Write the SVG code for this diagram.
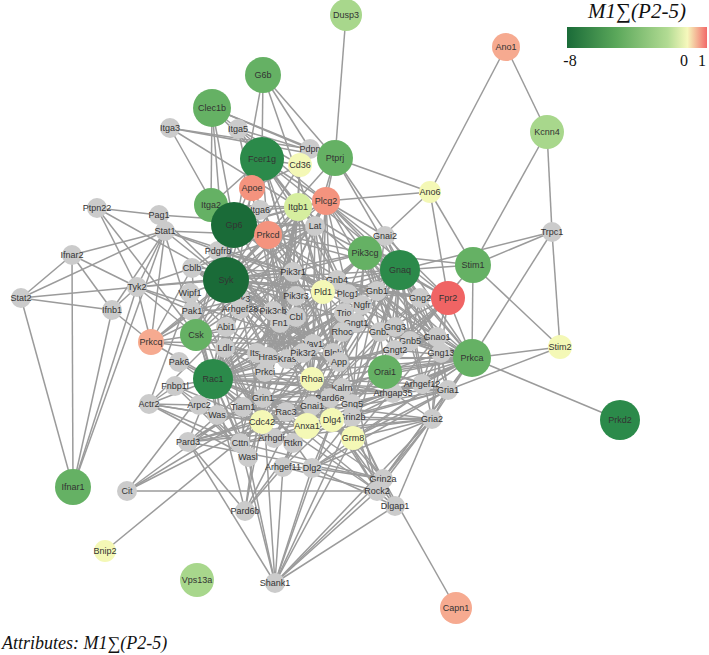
<svg xmlns="http://www.w3.org/2000/svg" width="709" height="655" viewBox="0 0 709 655">
<defs>
<linearGradient id="lg" x1="0" y1="0" x2="1" y2="0">
<stop offset="0" stop-color="#1a6b38"/><stop offset="0.35" stop-color="#5aa75a"/><stop offset="0.72" stop-color="#b2db93"/><stop offset="0.86" stop-color="#f6f8bc"/><stop offset="1" stop-color="#f26a6a"/>
</linearGradient>
</defs>
<style>
.gr{fill:#cbcbcb}.vdg{fill:#1a6b38}.dg{fill:#2b8a4a}.mg{fill:#65b164}.lg{fill:#a8d78c}.pg{fill:#d6ee9f}.yl{fill:#f4f8b6}.sa{fill:#f4937e}.ls{fill:#f6aa90}.rd{fill:#f06464}
.nodes text{font-family:"Liberation Sans",Arial,sans-serif;font-size:9px;fill:#333;text-anchor:middle}
.ser{font-family:"Liberation Serif","Times New Roman",serif;font-style:italic;fill:#111}
.tick{font-family:"Liberation Serif","Times New Roman",serif;font-size:16px;fill:#111}
</style>
<rect width="709" height="655" fill="#fff"/>
<g id="edges" fill="none" stroke="#9b9b9b" stroke-width="1.5">
<path d="M346 15L335 158"/><path d="M506 47L430 192"/><path d="M506 47L547 132"/><path d="M547 132L473 265"/><path d="M547 132L552 232"/><path d="M552 232L473 265"/><path d="M552 232L400 270"/><path d="M552 232L560 347"/><path d="M552 232L472 358"/><path d="M473 265L560 347"/><path d="M473 265L385 372"/><path d="M473 265L400 270"/><path d="M473 265L472 358"/><path d="M472 358L620 420"/><path d="M472 358L560 347"/><path d="M448 390L560 347"/><path d="M430 192L448 298"/><path d="M430 192L335 158"/><path d="M430 192L365 253"/><path d="M430 192L473 265"/><path d="M430 192L326 201"/>
<path d="M263 75L335 158"/><path d="M263 75L226 280"/><path d="M263 75L262 159"/><path d="M263 75L310 149"/><path d="M263 75L315 226"/>
<path d="M212 108L226 280"/><path d="M212 108L310 149"/><path d="M212 108L234 225"/><path d="M212 108L262 159"/><path d="M212 108L326 201"/><path d="M212 108L335 158"/><path d="M212 108L211 205"/>
<path d="M170 128L298 207"/><path d="M170 128L280 323"/><path d="M170 128L335 158"/><path d="M170 128L310 149"/><path d="M238 129L298 207"/><path d="M238 129L280 323"/><path d="M238 129L335 158"/><path d="M238 129L300 165"/>
<path d="M310 149L335 158"/><path d="M310 149L300 165"/><path d="M335 158L226 280"/><path d="M335 158L326 201"/><path d="M335 158L315 226"/><path d="M335 158L400 270"/><path d="M335 158L472 358"/>
<path d="M300 165L298 207"/><path d="M300 165L262 159"/><path d="M300 165L226 280"/><path d="M300 165L252 188"/><path d="M300 165L293 272"/><path d="M252 188L225 348"/><path d="M252 188L339 362"/>
<path d="M97 208L159 215"/><path d="M97 208L137 287"/><path d="M97 208L196 335"/><path d="M97 208L226 280"/>
<path d="M72 255L165 231"/><path d="M72 255L137 287"/><path d="M72 255L21 298"/><path d="M72 255L112 310"/><path d="M72 255L73 487"/>
<path d="M21 298L165 231"/><path d="M21 298L137 287"/><path d="M21 298L73 487"/><path d="M21 298L112 310"/>
<path d="M137 287L165 231"/><path d="M137 287L73 487"/><path d="M137 287L112 310"/><path d="M137 287L226 280"/><path d="M137 287L293 272"/><path d="M137 287L192 268"/><path d="M137 287L196 335"/><path d="M137 287L192 311"/><path d="M137 287L313 344"/>
<path d="M112 310L73 487"/><path d="M112 310L165 231"/><path d="M165 231L73 487"/><path d="M165 231L226 280"/><path d="M165 231L293 272"/><path d="M165 231L268 235"/><path d="M165 231L218 251"/><path d="M165 231L151 342"/>
<path d="M159 215L196 335"/><path d="M159 215L315 226"/><path d="M159 215L226 280"/>
<path d="M151 342L213 379"/><path d="M151 342L196 335"/><path d="M151 342L226 280"/><path d="M151 342L315 226"/><path d="M151 342L313 344"/><path d="M151 342L192 311"/><path d="M151 342L137 287"/><path d="M151 342L112 310"/><path d="M151 342L268 357"/><path d="M151 342L192 268"/><path d="M151 342L293 272"/>
<path d="M149 404L199 405"/><path d="M149 404L190 293"/><path d="M149 404L217 415"/><path d="M149 404L248 457"/><path d="M149 404L240 443"/><path d="M149 404L226 327"/><path d="M149 404L175 386"/><path d="M149 404L213 379"/><path d="M149 404L262 422"/>
<path d="M127 491L312 379"/><path d="M127 491L377 491"/><path d="M127 491L213 379"/><path d="M127 491L262 422"/>
<path d="M188 442L245 511"/><path d="M188 442L262 422"/><path d="M188 442L213 379"/><path d="M188 442L265 372"/><path d="M188 442L330 398"/><path d="M188 442L243 407"/>
<path d="M245 511L262 422"/><path d="M245 511L213 379"/><path d="M245 511L265 372"/><path d="M245 511L312 379"/><path d="M245 511L330 398"/>
<path d="M275 583L395 506"/><path d="M275 583L383 479"/><path d="M275 583L332 420"/><path d="M275 583L353 438"/><path d="M275 583L240 443"/><path d="M275 583L263 398"/><path d="M275 583L312 468"/><path d="M275 583L352 417"/><path d="M275 583L283 467"/><path d="M275 583L188 442"/><path d="M275 583L377 491"/><path d="M275 583L432 419"/><path d="M275 583L248 457"/>
<path d="M456 608L383 479"/><path d="M262 422L105 551"/>
<path d="M226 280L262 159"/><path d="M226 280L234 225"/><path d="M226 280L315 226"/><path d="M226 280L326 201"/><path d="M226 280L313 344"/><path d="M226 280L333 353"/><path d="M226 280L293 272"/><path d="M226 280L296 317"/><path d="M226 280L192 268"/><path d="M226 280L348 294"/><path d="M226 280L196 335"/><path d="M226 280L213 379"/><path d="M226 280L273 311"/><path d="M226 280L323 292"/><path d="M226 280L298 207"/><path d="M226 280L268 235"/><path d="M226 280L268 357"/><path d="M226 280L400 270"/><path d="M226 280L448 298"/><path d="M226 280L192 311"/><path d="M226 280L190 293"/><path d="M226 280L218 251"/><path d="M226 280L303 353"/><path d="M226 280L296 296"/><path d="M226 280L211 205"/><path d="M226 280L365 253"/><path d="M226 280L377 291"/><path d="M226 280L472 358"/><path d="M226 280L312 379"/>
<path d="M234 225L262 159"/><path d="M234 225L315 226"/><path d="M234 225L326 201"/><path d="M234 225L211 205"/><path d="M234 225L298 207"/><path d="M234 225L268 235"/><path d="M234 225L313 344"/><path d="M234 225L293 272"/><path d="M234 225L323 292"/><path d="M234 225L400 270"/><path d="M234 225L365 253"/><path d="M234 225L260 210"/>
<path d="M262 159L315 226"/><path d="M262 159L326 201"/><path d="M262 159L298 207"/><path d="M262 159L268 235"/><path d="M262 159L293 272"/><path d="M262 159L313 344"/><path d="M262 159L348 294"/><path d="M262 159L333 353"/><path d="M262 159L400 270"/><path d="M262 159L211 205"/><path d="M262 159L252 188"/>
<path d="M326 201L315 226"/><path d="M326 201L268 235"/><path d="M326 201L365 253"/><path d="M326 201L400 270"/><path d="M326 201L323 292"/><path d="M326 201L333 353"/><path d="M326 201L313 344"/><path d="M326 201L213 379"/><path d="M326 201L348 294"/><path d="M326 201L377 291"/><path d="M326 201L420 298"/><path d="M326 201L298 207"/><path d="M326 201L448 298"/><path d="M326 201L293 272"/><path d="M326 201L385 236"/>
<path d="M298 207L280 323"/><path d="M298 207L211 205"/><path d="M298 207L260 210"/><path d="M298 207L293 272"/><path d="M298 207L213 379"/><path d="M298 207L262 422"/><path d="M298 207L240 443"/><path d="M298 207L268 357"/><path d="M298 207L196 335"/><path d="M298 207L472 358"/><path d="M298 207L312 379"/><path d="M298 207L323 292"/><path d="M298 207L315 226"/><path d="M298 207L273 311"/><path d="M298 207L339 362"/><path d="M298 207L400 270"/>
<path d="M268 235L315 226"/><path d="M268 235L293 272"/><path d="M268 235L472 358"/><path d="M268 235L323 292"/><path d="M268 235L268 357"/><path d="M268 235L312 379"/><path d="M268 235L287 359"/><path d="M268 235L313 344"/><path d="M268 235L348 294"/><path d="M268 235L307 426"/><path d="M268 235L218 251"/>
<path d="M315 226L293 272"/><path d="M315 226L348 294"/><path d="M315 226L313 344"/><path d="M315 226L333 353"/><path d="M315 226L296 317"/><path d="M315 226L337 280"/><path d="M315 226L365 253"/><path d="M315 226L196 335"/><path d="M315 226L192 268"/>
<path d="M365 253L400 270"/><path d="M365 253L377 291"/><path d="M365 253L380 332"/><path d="M365 253L337 280"/><path d="M365 253L420 298"/><path d="M365 253L356 323"/><path d="M365 253L395 327"/><path d="M365 253L410 341"/><path d="M365 253L385 236"/><path d="M365 253L293 272"/><path d="M365 253L323 292"/><path d="M365 253L268 357"/><path d="M365 253L213 379"/><path d="M365 253L448 298"/><path d="M365 253L437 337"/><path d="M365 253L441 353"/><path d="M365 253L395 350"/><path d="M365 253L312 379"/><path d="M365 253L473 265"/><path d="M365 253L352 404"/>
<path d="M400 270L377 291"/><path d="M400 270L380 332"/><path d="M400 270L337 280"/><path d="M400 270L420 298"/><path d="M400 270L395 327"/><path d="M400 270L356 323"/><path d="M400 270L395 350"/><path d="M400 270L410 341"/><path d="M400 270L441 353"/><path d="M400 270L437 337"/><path d="M400 270L385 236"/><path d="M400 270L448 298"/><path d="M400 270L472 358"/><path d="M400 270L348 294"/><path d="M400 270L323 292"/><path d="M400 270L385 372"/><path d="M400 270L422 384"/><path d="M400 270L448 390"/><path d="M400 270L312 379"/><path d="M400 270L283 467"/><path d="M400 270L352 404"/><path d="M400 270L312 406"/><path d="M400 270L344 313"/><path d="M400 270L213 379"/><path d="M400 270L432 419"/><path d="M400 270L353 438"/>
<path d="M377 291L420 298"/><path d="M377 291L395 327"/><path d="M377 291L356 323"/><path d="M377 291L395 350"/><path d="M377 291L441 353"/><path d="M377 291L352 404"/><path d="M377 291L437 337"/><path d="M377 291L385 236"/><path d="M377 291L312 406"/><path d="M380 332L420 298"/><path d="M380 332L395 327"/><path d="M380 332L356 323"/><path d="M380 332L395 350"/><path d="M380 332L441 353"/><path d="M380 332L352 404"/><path d="M380 332L312 406"/><path d="M337 280L420 298"/><path d="M337 280L395 327"/><path d="M337 280L356 323"/><path d="M337 280L395 350"/><path d="M337 280L352 404"/><path d="M337 280L441 353"/><path d="M410 341L420 298"/><path d="M410 341L441 353"/><path d="M410 341L395 350"/><path d="M410 341L395 327"/><path d="M410 341L437 337"/><path d="M410 341L356 323"/><path d="M410 341L352 404"/><path d="M385 236L420 298"/><path d="M385 236L448 298"/><path d="M437 337L420 298"/><path d="M437 337L395 350"/><path d="M437 337L441 353"/><path d="M312 406L352 404"/><path d="M312 406L356 323"/><path d="M312 406L420 298"/>
<path d="M448 298L312 406"/><path d="M448 298L377 291"/><path d="M448 298L420 298"/><path d="M448 298L437 337"/><path d="M448 298L410 341"/><path d="M448 298L441 353"/><path d="M448 298L472 358"/><path d="M448 298L307 426"/><path d="M448 298L323 292"/><path d="M448 298L380 332"/><path d="M448 298L395 350"/>
<path d="M472 358L441 353"/><path d="M472 358L437 337"/><path d="M472 358L410 341"/><path d="M472 358L420 298"/><path d="M472 358L323 292"/><path d="M472 358L312 379"/><path d="M472 358L385 372"/><path d="M472 358L448 390"/><path d="M472 358L432 419"/><path d="M472 358L422 384"/><path d="M472 358L287 359"/><path d="M472 358L268 357"/><path d="M472 358L213 379"/><path d="M472 358L383 479"/><path d="M472 358L352 417"/><path d="M472 358L332 420"/><path d="M472 358L395 350"/><path d="M472 358L307 426"/><path d="M472 358L393 393"/><path d="M472 358L263 398"/><path d="M472 358L380 332"/><path d="M472 358L395 327"/><path d="M472 358L262 422"/><path d="M472 358L353 438"/><path d="M472 358L312 468"/><path d="M472 358L377 291"/>
<path d="M385 372L422 384"/><path d="M385 372L441 353"/><path d="M385 372L448 390"/>
<path d="M448 390L432 419"/><path d="M448 390L332 420"/><path d="M448 390L383 479"/><path d="M448 390L352 417"/><path d="M448 390L263 398"/><path d="M448 390L353 438"/><path d="M448 390L422 384"/><path d="M448 390L437 337"/><path d="M448 390L312 468"/><path d="M448 390L441 353"/><path d="M448 390L262 422"/><path d="M448 390L213 379"/>
<path d="M432 419L332 420"/><path d="M432 419L383 479"/><path d="M432 419L352 417"/><path d="M432 419L263 398"/><path d="M432 419L312 468"/><path d="M432 419L353 438"/><path d="M432 419L393 393"/><path d="M432 419L395 506"/><path d="M432 419L441 353"/><path d="M432 419L188 442"/><path d="M432 419L240 443"/><path d="M432 419L377 491"/><path d="M432 419L437 337"/>
<path d="M422 384L312 379"/><path d="M422 384L441 353"/><path d="M422 384L410 341"/><path d="M422 384L437 337"/><path d="M393 393L312 379"/><path d="M393 393L213 379"/><path d="M393 393L262 422"/><path d="M393 393L352 404"/><path d="M393 393L395 350"/>
<path d="M312 379L377 491"/><path d="M312 379L293 443"/><path d="M312 379L274 438"/><path d="M312 379L283 467"/><path d="M312 379L313 344"/><path d="M312 379L344 313"/><path d="M312 379L342 388"/><path d="M312 379L323 292"/><path d="M312 379L213 379"/><path d="M312 379L262 422"/><path d="M312 379L265 372"/><path d="M312 379L330 398"/><path d="M312 379L268 357"/><path d="M312 379L287 359"/><path d="M312 379L240 309"/><path d="M312 379L307 426"/><path d="M312 379L362 305"/><path d="M312 379L332 420"/><path d="M312 379L293 272"/><path d="M312 379L240 443"/><path d="M312 379L303 353"/><path d="M312 379L352 404"/>
<path d="M213 379L192 311"/><path d="M213 379L240 299"/><path d="M213 379L179 362"/><path d="M213 379L313 344"/><path d="M213 379L243 407"/><path d="M213 379L217 415"/><path d="M213 379L248 457"/><path d="M213 379L190 293"/><path d="M213 379L226 327"/><path d="M213 379L274 438"/><path d="M213 379L262 422"/><path d="M213 379L286 412"/><path d="M213 379L342 388"/><path d="M213 379L344 313"/><path d="M213 379L330 398"/><path d="M213 379L265 372"/><path d="M213 379L175 386"/><path d="M213 379L240 443"/><path d="M213 379L268 357"/><path d="M213 379L287 359"/><path d="M213 379L293 272"/><path d="M213 379L273 311"/><path d="M213 379L257 353"/><path d="M213 379L199 405"/><path d="M213 379L196 335"/><path d="M213 379L240 309"/><path d="M213 379L303 353"/><path d="M213 379L362 305"/><path d="M213 379L225 348"/><path d="M213 379L263 398"/><path d="M213 379L332 420"/><path d="M213 379L323 292"/><path d="M213 379L280 323"/><path d="M213 379L296 296"/>
<path d="M262 422L217 415"/><path d="M262 422L248 457"/><path d="M262 422L192 311"/><path d="M262 422L240 299"/><path d="M262 422L179 362"/><path d="M262 422L330 398"/><path d="M262 422L257 353"/><path d="M262 422L274 438"/><path d="M262 422L175 386"/><path d="M262 422L243 407"/><path d="M262 422L313 344"/><path d="M262 422L240 443"/><path d="M262 422L265 372"/><path d="M262 422L226 327"/><path d="M262 422L190 293"/><path d="M262 422L286 412"/><path d="M262 422L199 405"/><path d="M262 422L263 398"/><path d="M262 422L332 420"/><path d="M262 422L293 272"/><path d="M262 422L268 357"/><path d="M262 422L287 359"/><path d="M262 422L293 443"/><path d="M262 422L344 313"/><path d="M262 422L342 388"/><path d="M262 422L307 426"/><path d="M262 422L225 348"/>
<path d="M196 335L192 268"/><path d="M196 335L192 311"/><path d="M196 335L226 327"/><path d="M196 335L218 251"/><path d="M196 335L268 357"/><path d="M196 335L293 272"/><path d="M196 335L280 323"/><path d="M196 335L313 344"/><path d="M196 335L234 225"/>
<path d="M218 251L293 272"/><path d="M218 251L273 311"/><path d="M218 251L268 357"/><path d="M218 251L296 317"/><path d="M218 251L192 268"/><path d="M218 251L348 294"/><path d="M218 251L303 353"/><path d="M218 251L296 296"/><path d="M218 251L226 327"/><path d="M218 251L280 323"/><path d="M218 251L287 359"/>
<path d="M192 268L293 272"/><path d="M192 268L313 344"/><path d="M192 268L296 317"/><path d="M192 268L303 353"/>
<path d="M293 272L273 311"/><path d="M293 272L296 317"/><path d="M293 272L268 357"/><path d="M293 272L287 359"/><path d="M293 272L313 344"/><path d="M293 272L348 294"/><path d="M293 272L333 353"/><path d="M293 272L362 305"/><path d="M293 272L323 292"/><path d="M293 272L226 327"/><path d="M293 272L280 323"/><path d="M293 272L257 353"/><path d="M293 272L377 291"/>
<path d="M268 357L287 359"/><path d="M268 357L273 311"/><path d="M268 357L323 292"/><path d="M268 357L362 305"/><path d="M268 357L348 294"/><path d="M268 357L257 353"/><path d="M268 357L303 353"/><path d="M268 357L296 296"/><path d="M268 357L313 344"/><path d="M268 357L377 291"/><path d="M268 357L226 327"/><path d="M268 357L243 407"/><path d="M268 357L296 317"/><path d="M268 357L263 398"/>
<path d="M287 359L273 311"/><path d="M287 359L303 353"/><path d="M287 359L296 296"/><path d="M287 359L323 292"/><path d="M287 359L362 305"/><path d="M287 359L313 344"/>
<path d="M263 398L383 479"/><path d="M263 398L352 417"/><path d="M263 398L332 420"/><path d="M263 398L312 468"/><path d="M263 398L353 438"/><path d="M263 398L286 412"/><path d="M263 398L243 407"/><path d="M263 398L342 388"/><path d="M263 398L395 506"/><path d="M263 398L188 442"/><path d="M263 398L240 443"/>
<path d="M332 420L383 479"/><path d="M332 420L352 417"/><path d="M332 420L312 468"/><path d="M332 420L395 506"/><path d="M332 420L353 438"/><path d="M332 420L342 388"/><path d="M332 420L286 412"/><path d="M332 420L283 467"/><path d="M332 420L293 443"/><path d="M332 420L188 442"/><path d="M332 420L240 443"/><path d="M332 420L377 491"/>
<path d="M383 479L352 417"/><path d="M383 479L395 506"/><path d="M383 479L312 468"/><path d="M383 479L377 491"/><path d="M383 479L353 438"/><path d="M383 479L188 442"/><path d="M383 479L240 443"/><path d="M352 417L312 468"/><path d="M352 417L395 506"/><path d="M352 417L353 438"/><path d="M352 417L377 491"/><path d="M352 417L342 388"/><path d="M352 417L286 412"/>
<path d="M377 491L395 506"/><path d="M377 491L283 467"/><path d="M377 491L213 379"/><path d="M395 506L312 468"/><path d="M283 467L293 443"/><path d="M283 467L312 468"/><path d="M283 467L245 511"/><path d="M274 438L286 412"/><path d="M274 438L293 443"/><path d="M243 407L286 412"/><path d="M243 407L330 398"/><path d="M342 388L286 412"/><path d="M344 313L342 332"/>
<path d="M313 344L333 353"/><path d="M313 344L348 294"/><path d="M313 344L296 317"/><path d="M313 344L303 353"/><path d="M333 353L348 294"/><path d="M348 294L362 305"/><path d="M339 362L225 348"/><path d="M339 362L437 337"/><path d="M339 362L263 398"/>
<path d="M226 327L217 415"/><path d="M226 327L248 457"/><path d="M226 327L199 405"/><path d="M226 327L190 293"/><path d="M217 415L199 405"/><path d="M217 415L190 293"/><path d="M217 415L248 457"/><path d="M248 457L199 405"/><path d="M248 457L240 443"/><path d="M248 457L175 386"/><path d="M248 457L190 293"/><path d="M240 443L199 405"/><path d="M175 386L217 415"/><path d="M257 353L248 457"/><path d="M265 372L330 398"/><path d="M312 406L353 438"/><path d="M437 337L353 438"/>
<path d="M273 311L303 353"/><path d="M273 311L296 296"/><path d="M273 311L280 323"/><path d="M273 311L296 317"/><path d="M273 311L313 344"/><path d="M273 311L257 353"/><path d="M296 296L296 317"/><path d="M296 296L303 353"/><path d="M296 296L313 344"/><path d="M303 353L296 317"/><path d="M303 353L333 353"/><path d="M280 323L257 353"/><path d="M280 323L268 357"/><path d="M280 323L287 359"/><path d="M280 323L313 344"/><path d="M280 323L265 372"/><path d="M296 317L333 353"/><path d="M296 317L344 313"/><path d="M344 313L362 305"/><path d="M344 313L313 344"/><path d="M342 332L313 344"/><path d="M342 332L293 443"/><path d="M342 332L274 438"/><path d="M342 332L342 388"/><path d="M342 332L377 491"/><path d="M342 332L127 491"/><path d="M339 362L333 353"/><path d="M339 362L356 323"/><path d="M342 388L330 398"/><path d="M330 398L312 406"/><path d="M265 372L257 353"/><path d="M265 372L268 357"/><path d="M265 372L263 398"/><path d="M226 327L240 299"/><path d="M226 327L240 309"/><path d="M226 327L225 348"/><path d="M192 311L240 299"/><path d="M192 311L240 309"/><path d="M192 311L190 293"/><path d="M240 299L273 311"/><path d="M240 309L273 311"/><path d="M225 348L257 353"/><path d="M225 348L265 372"/><path d="M313 344L342 388"/><path d="M313 344L330 398"/><path d="M362 305L356 323"/><path d="M337 280L348 294"/><path d="M337 280L323 292"/><path d="M337 280L377 291"/><path d="M337 280L362 305"/><path d="M323 292L348 294"/><path d="M323 292L296 317"/><path d="M323 292L344 313"/><path d="M312 406L307 426"/><path d="M312 406L286 412"/><path d="M352 404L342 388"/><path d="M352 404L352 417"/><path d="M380 332L342 332"/><path d="M395 350L339 362"/><path d="M385 372L380 332"/><path d="M385 372L352 404"/><path d="M385 372L342 388"/><path d="M422 384L352 404"/><path d="M393 393L342 388"/>
</g>
<g class="nodes">
<g id="n-Itga3"><circle class="gr" cx="170" cy="128" r="10"/><text x="170" y="131">Itga3</text></g>
<g id="n-Itga5"><circle class="gr" cx="238" cy="129" r="10"/><text x="238" y="132">Itga5</text></g>
<g id="n-Pdpn"><circle class="gr" cx="310" cy="149" r="10"/><text x="310" y="152">Pdpn</text></g>
<g id="n-Itga6"><circle class="gr" cx="260" cy="210" r="10"/><text x="260" y="213">Itga6</text></g>
<g id="n-Lat"><circle class="gr" cx="315" cy="226" r="10"/><text x="315" y="229">Lat</text></g>
<g id="n-Ptpn22"><circle class="gr" cx="97" cy="208" r="10"/><text x="97" y="211">Ptpn22</text></g>
<g id="n-Pag1"><circle class="gr" cx="159" cy="215" r="10"/><text x="159" y="218">Pag1</text></g>
<g id="n-Stat1"><circle class="gr" cx="165" cy="231" r="10"/><text x="165" y="234">Stat1</text></g>
<g id="n-Ifnar2"><circle class="gr" cx="72" cy="255" r="10"/><text x="72" y="258">Ifnar2</text></g>
<g id="n-Stat2"><circle class="gr" cx="21" cy="298" r="10"/><text x="21" y="301">Stat2</text></g>
<g id="n-Tyk2"><circle class="gr" cx="137" cy="287" r="10"/><text x="137" y="290">Tyk2</text></g>
<g id="n-Ifnb1"><circle class="gr" cx="112" cy="310" r="10"/><text x="112" y="313">Ifnb1</text></g>
<g id="n-Pdgfrb"><circle class="gr" cx="218" cy="251" r="10"/><text x="218" y="254">Pdgfrb</text></g>
<g id="n-Cblb"><circle class="gr" cx="192" cy="268" r="10"/><text x="192" y="271">Cblb</text></g>
<g id="n-Gnai2"><circle class="gr" cx="385" cy="236" r="10"/><text x="385" y="239">Gnai2</text></g>
<g id="n-Trpc1"><circle class="gr" cx="552" cy="232" r="10"/><text x="552" y="235">Trpc1</text></g>
<g id="n-Pik3r1"><circle class="gr" cx="293" cy="272" r="10"/><text x="293" y="275">Pik3r1</text></g>
<g id="n-Gnb4"><circle class="gr" cx="337" cy="280" r="10"/><text x="337" y="283">Gnb4</text></g>
<g id="n-Wipf1"><circle class="gr" cx="190" cy="293" r="10"/><text x="190" y="296">Wipf1</text></g>
<g id="n-Pak1"><circle class="gr" cx="192" cy="311" r="10"/><text x="192" y="314">Pak1</text></g>
<g id="n-Pak3"><circle class="gr" cx="240" cy="299" r="10"/><text x="240" y="302">Pak3</text></g>
<g id="n-Arhgef28"><circle class="gr" cx="240" cy="309" r="10"/><text x="240" y="312">Arhgef28</text></g>
<g id="n-Pik3r3"><circle class="gr" cx="296" cy="296" r="10"/><text x="296" y="299">Pik3r3</text></g>
<g id="n-Plcg1"><circle class="gr" cx="348" cy="294" r="10"/><text x="348" y="297">Plcg1</text></g>
<g id="n-Gnb1"><circle class="gr" cx="377" cy="291" r="10"/><text x="377" y="294">Gnb1</text></g>
<g id="n-Gng2"><circle class="gr" cx="420" cy="298" r="10"/><text x="420" y="301">Gng2</text></g>
<g id="n-Pik3cb"><circle class="gr" cx="273" cy="311" r="10"/><text x="273" y="314">Pik3cb</text></g>
<g id="n-Cbl"><circle class="gr" cx="296" cy="317" r="10"/><text x="296" y="320">Cbl</text></g>
<g id="n-Fn1"><circle class="gr" cx="280" cy="323" r="10"/><text x="280" y="326">Fn1</text></g>
<g id="n-Trio"><circle class="gr" cx="344" cy="313" r="10"/><text x="344" y="316">Trio</text></g>
<g id="n-Ngfr"><circle class="gr" cx="362" cy="305" r="10"/><text x="362" y="308">Ngfr</text></g>
<g id="n-Abi1"><circle class="gr" cx="226" cy="327" r="10"/><text x="226" y="330">Abi1</text></g>
<g id="n-Gngt1"><circle class="gr" cx="356" cy="323" r="10"/><text x="356" y="326">Gngt1</text></g>
<g id="n-Rhoc"><circle class="gr" cx="342" cy="332" r="10"/><text x="342" y="335">Rhoc</text></g>
<g id="n-Gnb2"><circle class="gr" cx="380" cy="332" r="10"/><text x="380" y="335">Gnb2</text></g>
<g id="n-Gng3"><circle class="gr" cx="395" cy="327" r="10"/><text x="395" y="330">Gng3</text></g>
<g id="n-Gnb5"><circle class="gr" cx="410" cy="341" r="10"/><text x="410" y="344">Gnb5</text></g>
<g id="n-Gnao1"><circle class="gr" cx="437" cy="337" r="10"/><text x="437" y="340">Gnao1</text></g>
<g id="n-Kras"><circle class="gr" cx="287" cy="359" r="10"/><text x="287" y="362">Kras</text></g>
<g id="n-Vav1"><circle class="gr" cx="313" cy="344" r="10"/><text x="313" y="347">Vav1</text></g>
<g id="n-Pik3r2"><circle class="gr" cx="303" cy="353" r="10"/><text x="303" y="356">Pik3r2</text></g>
<g id="n-Blnk"><circle class="gr" cx="333" cy="353" r="10"/><text x="333" y="356">Blnk</text></g>
<g id="n-Ldlr"><circle class="gr" cx="225" cy="348" r="10"/><text x="225" y="351">Ldlr</text></g>
<g id="n-Itsn"><circle class="gr" cx="257" cy="353" r="10"/><text x="257" y="356">Itsn</text></g>
<g id="n-Hras"><circle class="gr" cx="268" cy="357" r="10"/><text x="268" y="360">Hras</text></g>
<g id="n-Gngt2"><circle class="gr" cx="395" cy="350" r="10"/><text x="395" y="353">Gngt2</text></g>
<g id="n-Gng13"><circle class="gr" cx="441" cy="353" r="10"/><text x="441" y="356">Gng13</text></g>
<g id="n-App"><circle class="gr" cx="339" cy="362" r="10"/><text x="339" y="365">App</text></g>
<g id="n-Pak6"><circle class="gr" cx="179" cy="362" r="10"/><text x="179" y="365">Pak6</text></g>
<g id="n-Prkci"><circle class="gr" cx="265" cy="372" r="10"/><text x="265" y="375">Prkci</text></g>
<g id="n-Fnbp1l"><circle class="gr" cx="175" cy="386" r="10"/><text x="175" y="389">Fnbp1l</text></g>
<g id="n-Kalrn"><circle class="gr" cx="342" cy="388" r="10"/><text x="342" y="391">Kalrn</text></g>
<g id="n-Arhgef12"><circle class="gr" cx="422" cy="384" r="10"/><text x="422" y="387">Arhgef12</text></g>
<g id="n-Arhgap35"><circle class="gr" cx="393" cy="393" r="10"/><text x="393" y="396">Arhgap35</text></g>
<g id="n-Gria1"><circle class="gr" cx="448" cy="390" r="10"/><text x="448" y="393">Gria1</text></g>
<g id="n-Grin1"><circle class="gr" cx="263" cy="398" r="10"/><text x="263" y="401">Grin1</text></g>
<g id="n-Pard6a"><circle class="gr" cx="330" cy="398" r="10"/><text x="330" y="401">Pard6a</text></g>
<g id="n-Actr2"><circle class="gr" cx="149" cy="404" r="10"/><text x="149" y="407">Actr2</text></g>
<g id="n-Gng5"><circle class="gr" cx="352" cy="404" r="10"/><text x="352" y="407">Gng5</text></g>
<g id="n-Arpc2"><circle class="gr" cx="199" cy="405" r="10"/><text x="199" y="408">Arpc2</text></g>
<g id="n-Gnai1"><circle class="gr" cx="312" cy="406" r="10"/><text x="312" y="409">Gnai1</text></g>
<g id="n-Tiam1"><circle class="gr" cx="243" cy="407" r="10"/><text x="243" y="410">Tiam1</text></g>
<g id="n-Rac3"><circle class="gr" cx="286" cy="412" r="10"/><text x="286" y="415">Rac3</text></g>
<g id="n-Was"><circle class="gr" cx="217" cy="415" r="10"/><text x="217" y="418">Was</text></g>
<g id="n-Grin2b"><circle class="gr" cx="352" cy="417" r="10"/><text x="352" y="420">Grin2b</text></g>
<g id="n-Gria2"><circle class="gr" cx="432" cy="419" r="10"/><text x="432" y="422">Gria2</text></g>
<g id="n-Pard3"><circle class="gr" cx="188" cy="442" r="10"/><text x="188" y="445">Pard3</text></g>
<g id="n-Cttn"><circle class="gr" cx="240" cy="443" r="10"/><text x="240" y="446">Cttn</text></g>
<g id="n-Arhgdia"><circle class="gr" cx="274" cy="438" r="10"/><text x="274" y="441">Arhgdia</text></g>
<g id="n-Rtkn"><circle class="gr" cx="293" cy="443" r="10"/><text x="293" y="446">Rtkn</text></g>
<g id="n-Wasl"><circle class="gr" cx="248" cy="457" r="10"/><text x="248" y="460">Wasl</text></g>
<g id="n-Arhgef11"><circle class="gr" cx="283" cy="467" r="10"/><text x="283" y="470">Arhgef11</text></g>
<g id="n-Dlg2"><circle class="gr" cx="312" cy="468" r="10"/><text x="312" y="471">Dlg2</text></g>
<g id="n-Grin2a"><circle class="gr" cx="383" cy="479" r="10"/><text x="383" y="482">Grin2a</text></g>
<g id="n-Rock2"><circle class="gr" cx="377" cy="491" r="10"/><text x="377" y="494">Rock2</text></g>
<g id="n-Dlgap1"><circle class="gr" cx="395" cy="506" r="10"/><text x="395" y="509">Dlgap1</text></g>
<g id="n-Cit"><circle class="gr" cx="127" cy="491" r="10"/><text x="127" y="494">Cit</text></g>
<g id="n-Pard6b"><circle class="gr" cx="245" cy="511" r="10"/><text x="245" y="514">Pard6b</text></g>
<g id="n-Shank1"><circle class="gr" cx="275" cy="583" r="10"/><text x="275" y="586">Shank1</text></g>
<g id="n-Dusp3"><circle class="lg" cx="346" cy="15" r="16"/><text x="346" y="18">Dusp3</text></g>
<g id="n-Ano1"><circle class="ls" cx="506" cy="47" r="14"/><text x="506" y="50">Ano1</text></g>
<g id="n-G6b"><circle class="mg" cx="263" cy="75" r="18"/><text x="263" y="78">G6b</text></g>
<g id="n-Kcnn4"><circle class="lg" cx="547" cy="132" r="17"/><text x="547" y="135">Kcnn4</text></g>
<g id="n-Clec1b"><circle class="mg" cx="212" cy="108" r="19"/><text x="212" y="111">Clec1b</text></g>
<g id="n-Fcer1g"><circle class="dg" cx="262" cy="159" r="22"/><text x="262" y="162">Fcer1g</text></g>
<g id="n-Cd36"><circle class="yl" cx="300" cy="165" r="12"/><text x="300" y="168">Cd36</text></g>
<g id="n-Ptprj"><circle class="mg" cx="335" cy="158" r="18"/><text x="335" y="161">Ptprj</text></g>
<g id="n-Ano6"><circle class="yl" cx="430" cy="192" r="11"/><text x="430" y="195">Ano6</text></g>
<g id="n-Apoe"><circle class="sa" cx="252" cy="188" r="13"/><text x="252" y="191">Apoe</text></g>
<g id="n-Plcg2"><circle class="sa" cx="326" cy="201" r="14"/><text x="326" y="204">Plcg2</text></g>
<g id="n-Itgb1"><circle class="pg" cx="298" cy="207" r="14"/><text x="298" y="210">Itgb1</text></g>
<g id="n-Itga2"><circle class="mg" cx="211" cy="205" r="17"/><text x="211" y="208">Itga2</text></g>
<g id="n-Gp6"><circle class="vdg" cx="234" cy="225" r="23"/><text x="234" y="228">Gp6</text></g>
<g id="n-Prkcd"><circle class="sa" cx="268" cy="235" r="14"/><text x="268" y="238">Prkcd</text></g>
<g id="n-Pik3cg"><circle class="mg" cx="365" cy="253" r="17"/><text x="365" y="256">Pik3cg</text></g>
<g id="n-Gnaq"><circle class="dg" cx="400" cy="270" r="20"/><text x="400" y="273">Gnaq</text></g>
<g id="n-Stim1"><circle class="mg" cx="473" cy="265" r="18"/><text x="473" y="268">Stim1</text></g>
<g id="n-Fpr2"><circle class="rd" cx="448" cy="298" r="17"/><text x="448" y="301">Fpr2</text></g>
<g id="n-Syk"><circle class="vdg" cx="226" cy="280" r="23"/><text x="226" y="283">Syk</text></g>
<g id="n-Pld1"><circle class="yl" cx="323" cy="292" r="12"/><text x="323" y="295">Pld1</text></g>
<g id="n-Csk"><circle class="mg" cx="196" cy="335" r="16"/><text x="196" y="338">Csk</text></g>
<g id="n-Prkcq"><circle class="ls" cx="151" cy="342" r="13"/><text x="151" y="345">Prkcq</text></g>
<g id="n-Prkca"><circle class="mg" cx="472" cy="358" r="19"/><text x="472" y="361">Prkca</text></g>
<g id="n-Stim2"><circle class="yl" cx="560" cy="347" r="12"/><text x="560" y="350">Stim2</text></g>
<g id="n-Orai1"><circle class="mg" cx="385" cy="372" r="17"/><text x="385" y="375">Orai1</text></g>
<g id="n-Rac1"><circle class="dg" cx="213" cy="379" r="20"/><text x="213" y="382">Rac1</text></g>
<g id="n-Rhoa"><circle class="yl" cx="312" cy="379" r="12"/><text x="312" y="382">Rhoa</text></g>
<g id="n-Prkd2"><circle class="dg" cx="620" cy="420" r="20"/><text x="620" y="423">Prkd2</text></g>
<g id="n-Cdc42"><circle class="yl" cx="262" cy="422" r="12"/><text x="262" y="425">Cdc42</text></g>
<g id="n-Anxa1"><circle class="yl" cx="307" cy="426" r="13"/><text x="307" y="429">Anxa1</text></g>
<g id="n-Dlg4"><circle class="yl" cx="332" cy="420" r="12"/><text x="332" y="423">Dlg4</text></g>
<g id="n-Grm8"><circle class="yl" cx="353" cy="438" r="12"/><text x="353" y="441">Grm8</text></g>
<g id="n-Ifnar1"><circle class="mg" cx="73" cy="487" r="18"/><text x="73" y="490">Ifnar1</text></g>
<g id="n-Bnip2"><circle class="yl" cx="105" cy="551" r="11"/><text x="105" y="554">Bnip2</text></g>
<g id="n-Vps13a"><circle class="lg" cx="197" cy="580" r="17"/><text x="197" y="583">Vps13a</text></g>
<g id="n-Capn1"><circle class="ls" cx="456" cy="608" r="16"/><text x="456" y="611">Capn1</text></g>
</g>
<g id="legend">
<text class="ser" x="637" y="18" font-size="21" text-anchor="middle">M1∑(P2-5)</text>
<rect x="567" y="27" width="140" height="21" fill="url(#lg)"/>
<text class="tick" x="570" y="66" text-anchor="middle">-8</text>
<text class="tick" x="684" y="66" text-anchor="middle">0</text>
<text class="tick" x="702" y="66" text-anchor="middle">1</text>
</g>
<text class="ser" x="2" y="649" font-size="18">Attributes: M1∑(P2-5)</text>
</svg>
